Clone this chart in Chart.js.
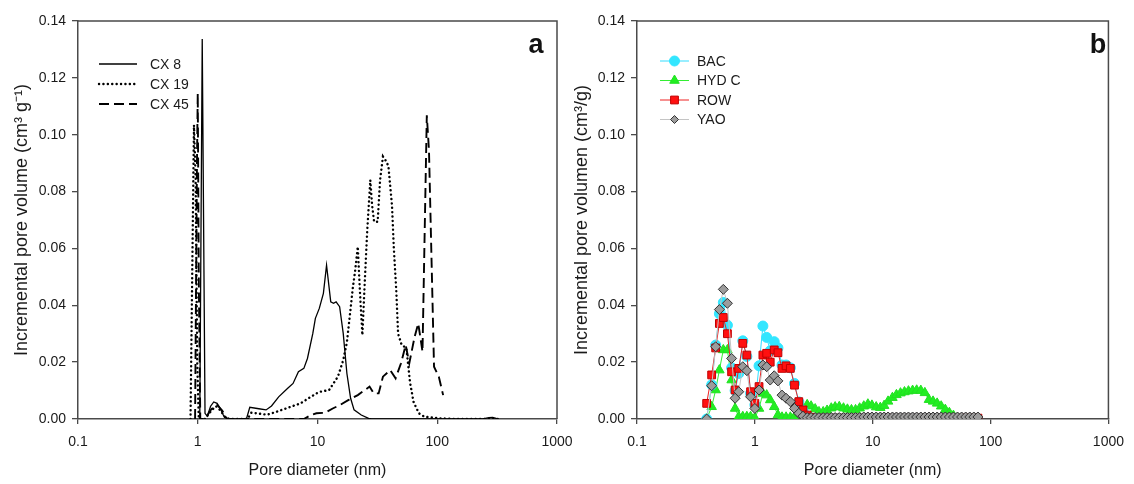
<!DOCTYPE html>
<html><head><meta charset="utf-8">
<script src="https://cdn.jsdelivr.net/npm/chart.js@4.4.0/dist/chart.umd.min.js"></script>
<style>
html,body{margin:0;padding:0;background:#fff;}
#wrap{position:relative;width:1134px;height:484px;overflow:hidden;background:#fff;}
#ca{position:absolute;left:0;top:0;}
#cb{position:absolute;left:560px;top:0;}
</style></head><body>
<div id="wrap"><canvas id="ca" width="600" height="484"></canvas><canvas id="cb" width="574" height="484"></canvas></div>
<script>
// ---------- tick labels ----------
const xTicks = [0.1, 1, 10, 100, 1000];
const yMin = 0, yMax = 0.14, yStep = 0.02;

// ---------- panel a ----------
const cx8X = [1.04,1.09,1.15,1.2,1.28,1.36,1.45,1.55,1.65,1.8,2.55,2.72,3.24,3.72,4.13,4.74,5.64,6.25,6.93,7.69,8.24,9.14,9.6,10.35,11.2,11.9,12.9,13.6,14.3,15.3,16.4,17.6,18.9,20.2,23.2,26.7,28.3,240,270,290,310,320];
const cx8Y = [0,0.1337,0.002,0.001,0.0045,0.006,0.0055,0.0035,0.001,0,0,0.0041,0.0036,0.0032,0.0046,0.0078,0.0108,0.0125,0.0166,0.0178,0.0213,0.0301,0.0354,0.0389,0.0442,0.0541,0.0412,0.0407,0.0412,0.0395,0.0301,0.016,0.0073,0.0032,0.0014,0.0002,0,0,0.0005,0.0006,0.0002,0];

const cx19X = [0.87,0.93,0.96,0.99,1.02,1.15,1.3,1.42,1.55,1.7,1.85,2.6,2.8,3.1,3.8,4.5,5.45,7.2,8.8,9.8,10.6,12.5,14.8,16.4,17.6,18.8,19.7,20.6,21.7,22.6,23.7,24.8,26.0,27.6,28.6,29.7,30.8,31.8,33.3,35.2,37.0,39.1,41.9,43.4,45.5,47.1,50.5,55.2,59.2,63.4,70.3,78,106,150,324];
const cx19Y = [0,0.1034,0.085,0.02,0,0,0.003,0.0045,0.003,0.0005,0,0,0.0022,0.002,0.0015,0.0025,0.0037,0.0055,0.0078,0.009,0.0096,0.0102,0.0149,0.0207,0.027,0.038,0.046,0.052,0.0606,0.045,0.0295,0.048,0.066,0.084,0.075,0.0694,0.0694,0.0694,0.084,0.0923,0.091,0.089,0.075,0.06,0.045,0.03,0.026,0.025,0.013,0.006,0.002,0.0008,0.0002,0,0];

const cx45X = [0.95,0.985,1.0,1.02,1.05,1.15,1.3,1.45,1.6,1.75,7.7,8.8,9.8,11.6,13.4,15.4,18.2,21.7,24.9,27.2,29.5,32.4,35.2,40.4,44.9,49.8,54.5,58.4,64.7,69.4,75.3,81.8,85.3,94,103,112];
const cx45Y = [0,0.09,0.1146,0.05,0,0,0.0035,0.005,0.003,0,0,0.0014,0.002,0.0022,0.0037,0.0049,0.0067,0.0084,0.0102,0.0114,0.009,0.009,0.0149,0.0172,0.0143,0.0196,0.026,0.0196,0.0289,0.0336,0.0237,0.1068,0.0945,0.0184,0.0149,0.0084];

// ---------- panel b (shared pore-diameter grid) ----------
const poreB = [0.39,0.43,0.465,0.50,0.54,0.585,0.635,0.68,0.73,0.79,
  0.855,0.92,1.0,1.085,1.17,1.26,1.35,1.46,1.57,1.70,
  1.84,2.0,2.17,2.36,2.56,2.78,3.0,3.25,3.5,3.8,
  4.1,4.45,4.8,5.2,5.65,6.1,6.6,7.15,7.75,8.4,
  9.1,9.85,10.7,11.6,12.5,13.5,14.7,15.9,17.2,18.6,
  20.1,21.8,23.6,25.6,27.7,30.0,32.5,35.2,38.1,41.3,
  44.7,48.4,52.4,56.8,61.5,66.6,72.1,78.1];

const bac = [0,0.012,0.026,0.037,0.041,0.033,0.018,0.010,0.016,0.0275,
  0.022,0.009,0.005,0.0187,0.0327,0.0287,0.024,0.0272,0.025,0.019,
  0.019,0.018,0.0125,0.006,0.003,0.001,0.0003,0.0001,0.0001,0.0001,
  0.0001,0.0001,0.0001,0.0001,0.0001,0.0001,0.0001,0.0001,0.0001,0.0001,
  0.0001,0.0001,0.0001,0.0001,0.0001,0.0001,0.0001,0.0001,0.0001,0.0001,
  0.0001,0.0001,0.0001,0.0001,0.0001,0.0001,0.0001,0.0001,0.0001,0.0001,
  0.0001,0.0001,0.0001,null,null,null,null,null];

const hydc = [0,0.0043,0.0102,0.0172,0.0243,0.0243,0.0137,0.0037,0.0008,0.0008,
  0.0008,0.0008,0.0004,0.0037,0.0090,0.0084,0.0067,0.0043,0.0014,0.0006,
  0.0006,0.0006,0.0008,0.0020,0.0037,0.0050,0.0045,0.0035,0.0025,0.0025,
  0.0030,0.0038,0.0042,0.0043,0.0038,0.0034,0.0032,0.0032,0.0038,0.0045,
  0.0052,0.0048,0.0042,0.0040,0.0047,0.0062,0.0075,0.0085,0.0091,0.0095,
  0.0098,0.0100,0.0101,0.0100,0.0092,0.0068,0.0062,0.0055,0.0045,0.0033,
  0.0022,0.0012,0.0004,0.0001,null,null,null,null];

const row = [0.0055,0.0155,0.025,0.0336,0.0357,0.030,0.0166,0.0102,0.0178,0.0266,
  0.0225,0.0096,0.0055,0.0114,0.0225,0.0231,0.020,0.0243,0.0233,0.0178,
  0.0187,0.0178,0.0119,0.0061,0.0032,0.0014,0.0006,0.0003,0.0003,0.0003,
  0.0003,0.0003,0.0003,0.0003,0.0003,0.0003,0.0003,0.0003,0.0003,0.0003,
  0.0003,0.0003,0.0003,0.0003,0.0003,0.0003,0.0003,0.0003,0.0003,0.0003,
  0.0003,0.0003,0.0003,0.0003,0.0003,0.0003,0.0003,0.0003,0.0003,0.0003,
  0.0003,0.0003,0.0003,0.0003,0.0003,0.0003,0.0003,0.0003];

const yao = [0,0.0117,0.0254,0.0385,0.0456,0.0407,0.0213,0.0073,0.0096,0.0184,
  0.0170,0.0078,0.0037,0.0102,0.0190,0.0184,0.0137,0.0152,0.0134,0.0084,
  0.0073,0.0061,0.0037,0.0020,0.0010,0.0005,0.0005,0.0005,0.0005,0.0005,
  0.0005,0.0005,0.0005,0.0005,0.0005,0.0005,0.0005,0.0005,0.0005,0.0007,
  0.0007,0.0007,0.0007,0.0007,0.0007,0.0007,0.0007,0.0007,0.0007,0.0007,
  0.0007,0.0007,0.0007,0.0007,0.0007,0.0007,0.0007,0.0007,0.0007,0.0007,
  0.0007,0.0007,0.0007,0.0007,0.0007,0.0007,0.0007,0.0007];

// ---------- helpers ----------
const FONT = '"Liberation Sans", Arial, Helvetica, sans-serif';
const TXT = '#1a1a1a';
const AXC = '#4a4a4a';
Chart.defaults.font.family = FONT;
Chart.defaults.color = TXT;

function pts(xs, ys) { return xs.map((x, i) => ({x: x, y: ys[i]})); }

function drawMarker(ctx, style, r, x, y) {
  if (Chart.helpers && Chart.helpers.drawPoint) {
    Chart.helpers.drawPoint(ctx, {pointStyle: style, radius: r, rotation: 0, borderWidth: ctx.lineWidth}, x, y);
    return;
  }
  ctx.beginPath(); ctx.arc(x, y, r, 0, Math.PI * 2); ctx.fill(); ctx.stroke();
}

const decor = {
  id: 'decor',
  beforeDatasetsDraw(chart, args, o) {
    const {ctx, chartArea: a} = chart;
    ctx.save();
    ctx.strokeStyle = AXC; ctx.lineWidth = 1.5;
    ctx.beginPath(); ctx.moveTo(a.left, a.top); ctx.lineTo(a.right, a.top); ctx.lineTo(a.right, a.bottom); ctx.stroke();
    ctx.restore();
  },
  afterDraw(chart, args, o) {
    const ctx = chart.ctx;
    ctx.save();
    ctx.font = 'bold 27px ' + FONT;
    ctx.fillStyle = '#111'; ctx.textAlign = 'center'; ctx.textBaseline = 'alphabetic';
    ctx.fillText(o.letter, o.letterX, o.letterY);
    ctx.font = '14px ' + FONT; ctx.textAlign = 'left'; ctx.textBaseline = 'middle';
    chart.data.datasets.forEach((ds, i) => {
      const y = o.legY + i * o.legDy;
      ctx.save();
      ctx.strokeStyle = ds.borderColor; ctx.lineWidth = ds.borderWidth;
      ctx.setLineDash(ds.borderDash || []); ctx.lineCap = ds.borderCapStyle || 'butt';
      ctx.beginPath(); ctx.moveTo(o.legX0, y); ctx.lineTo(o.legX1, y); ctx.stroke();
      ctx.restore();
      if (ds.pointRadius > 0) {
        ctx.save();
        ctx.fillStyle = ds.pointBackgroundColor; ctx.strokeStyle = ds.pointBorderColor; ctx.lineWidth = ds.pointBorderWidth;
        drawMarker(ctx, ds.pointStyle, ds.legendRadius || ds.pointRadius, (o.legX0 + o.legX1) / 2, y);
        ctx.restore();
      }
      ctx.fillStyle = TXT;
      ctx.fillText(ds.label, o.legTX, y + 1);
    });
    ctx.restore();
  }
};

function makeChart(id, datasets, yTitle, padRight, yWidth, deco) {
  const axisGrid = (tl) => ({display: true, drawOnChartArea: false, drawTicks: true, tickLength: tl, color: AXC, lineWidth: 1.3});
  const axisBorder = {display: true, color: AXC, width: 1.5};
  return new Chart(document.getElementById(id), {
    type: 'line',
    data: {datasets: datasets},
    options: {
      responsive: false, animation: false, devicePixelRatio: 1,
      layout: {padding: {top: 21, right: padRight, left: 0, bottom: 0}},
      plugins: {legend: {display: false}, tooltip: {enabled: false}, decor: deco},
      elements: {line: {tension: 0}},
      scales: {
        x: {
          type: 'logarithmic', min: xTicks[0], max: xTicks[xTicks.length - 1],
          afterBuildTicks: s => { s.ticks = xTicks.map(v => ({value: v})); },
          afterFit: s => { s.height = 65; },
          ticks: {callback: v => String(v), font: {size: 14}, color: TXT, padding: 10, maxRotation: 0, autoSkip: false},
          grid: axisGrid(5), border: axisBorder,
          title: {display: true, text: 'Pore diameter (nm)', font: {size: 16}, color: TXT, padding: {top: 0, bottom: 4}}
        },
        y: {
          type: 'linear', min: yMin, max: yMax,
          afterFit: s => { s.width = yWidth; },
          ticks: {stepSize: yStep, callback: v => Number(v).toFixed(2), font: {size: 14}, color: TXT, padding: 6},
          grid: axisGrid(6), border: axisBorder,
          title: {display: true, text: yTitle, font: {size: 18}, color: TXT, padding: {top: 11, bottom: 0}}
        }
      }
    },
    plugins: [decor]
  });
}

// ---------- panel a ----------
makeChart('ca', [
  {label: 'CX 8', data: pts(cx8X, cx8Y), borderColor: '#000', borderWidth: 1.3, pointRadius: 0, fill: false},
  {label: 'CX 19', data: pts(cx19X, cx19Y), borderColor: '#000', borderWidth: 2.4, borderDash: [0.1, 4.3], borderCapStyle: 'round', pointRadius: 0, fill: false},
  {label: 'CX 45', data: pts(cx45X, cx45Y), borderColor: '#000', borderWidth: 1.9, borderDash: [10, 5], pointRadius: 0, fill: false}
], 'Incremental pore volume (cm\u00B3 g\u207B\u00B9)', 43, 78,
  {letter: 'a', letterX: 536, letterY: 53, legX0: 99, legX1: 137, legTX: 150, legY: 64, legDy: 20});

// ---------- panel b ----------
makeChart('cb', [
  {label: 'BAC', data: pts(poreB, bac), order: 2, borderColor: '#33ddff', borderWidth: 1,
   pointStyle: 'circle', pointRadius: 5, pointBackgroundColor: '#33e6ff', pointBorderColor: '#33e6ff', pointBorderWidth: 1, fill: false},
  {label: 'HYD C', data: pts(poreB, hydc), order: 3, borderColor: '#33ee33', borderWidth: 1,
   pointStyle: 'triangle', pointRadius: 5.5, pointBackgroundColor: '#22ee22', pointBorderColor: '#22e022', pointBorderWidth: 1, fill: false},
  {label: 'ROW', data: pts(poreB, row), order: 1, borderColor: '#ee2222', borderWidth: 1,
   pointStyle: 'rect', pointRadius: 5.5, pointBackgroundColor: '#ff1010', pointBorderColor: '#c00000', pointBorderWidth: 1, fill: false},
  {label: 'YAO', data: pts(poreB, yao), order: 0, borderColor: '#c4c4c4', borderWidth: 1,
   pointStyle: 'rectRot', pointRadius: 5, legendRadius: 4, pointBackgroundColor: '#9c9c9c', pointBorderColor: '#333333', pointBorderWidth: 1, fill: false}
], 'Incremental pore volumen (cm\u00B3/g)', 18, 77,
  {letter: 'b', letterX: 538, letterY: 53, legX0: 100, legX1: 129, legTX: 137, legY: 61, legDy: 19.5});
</script>
</body></html>
